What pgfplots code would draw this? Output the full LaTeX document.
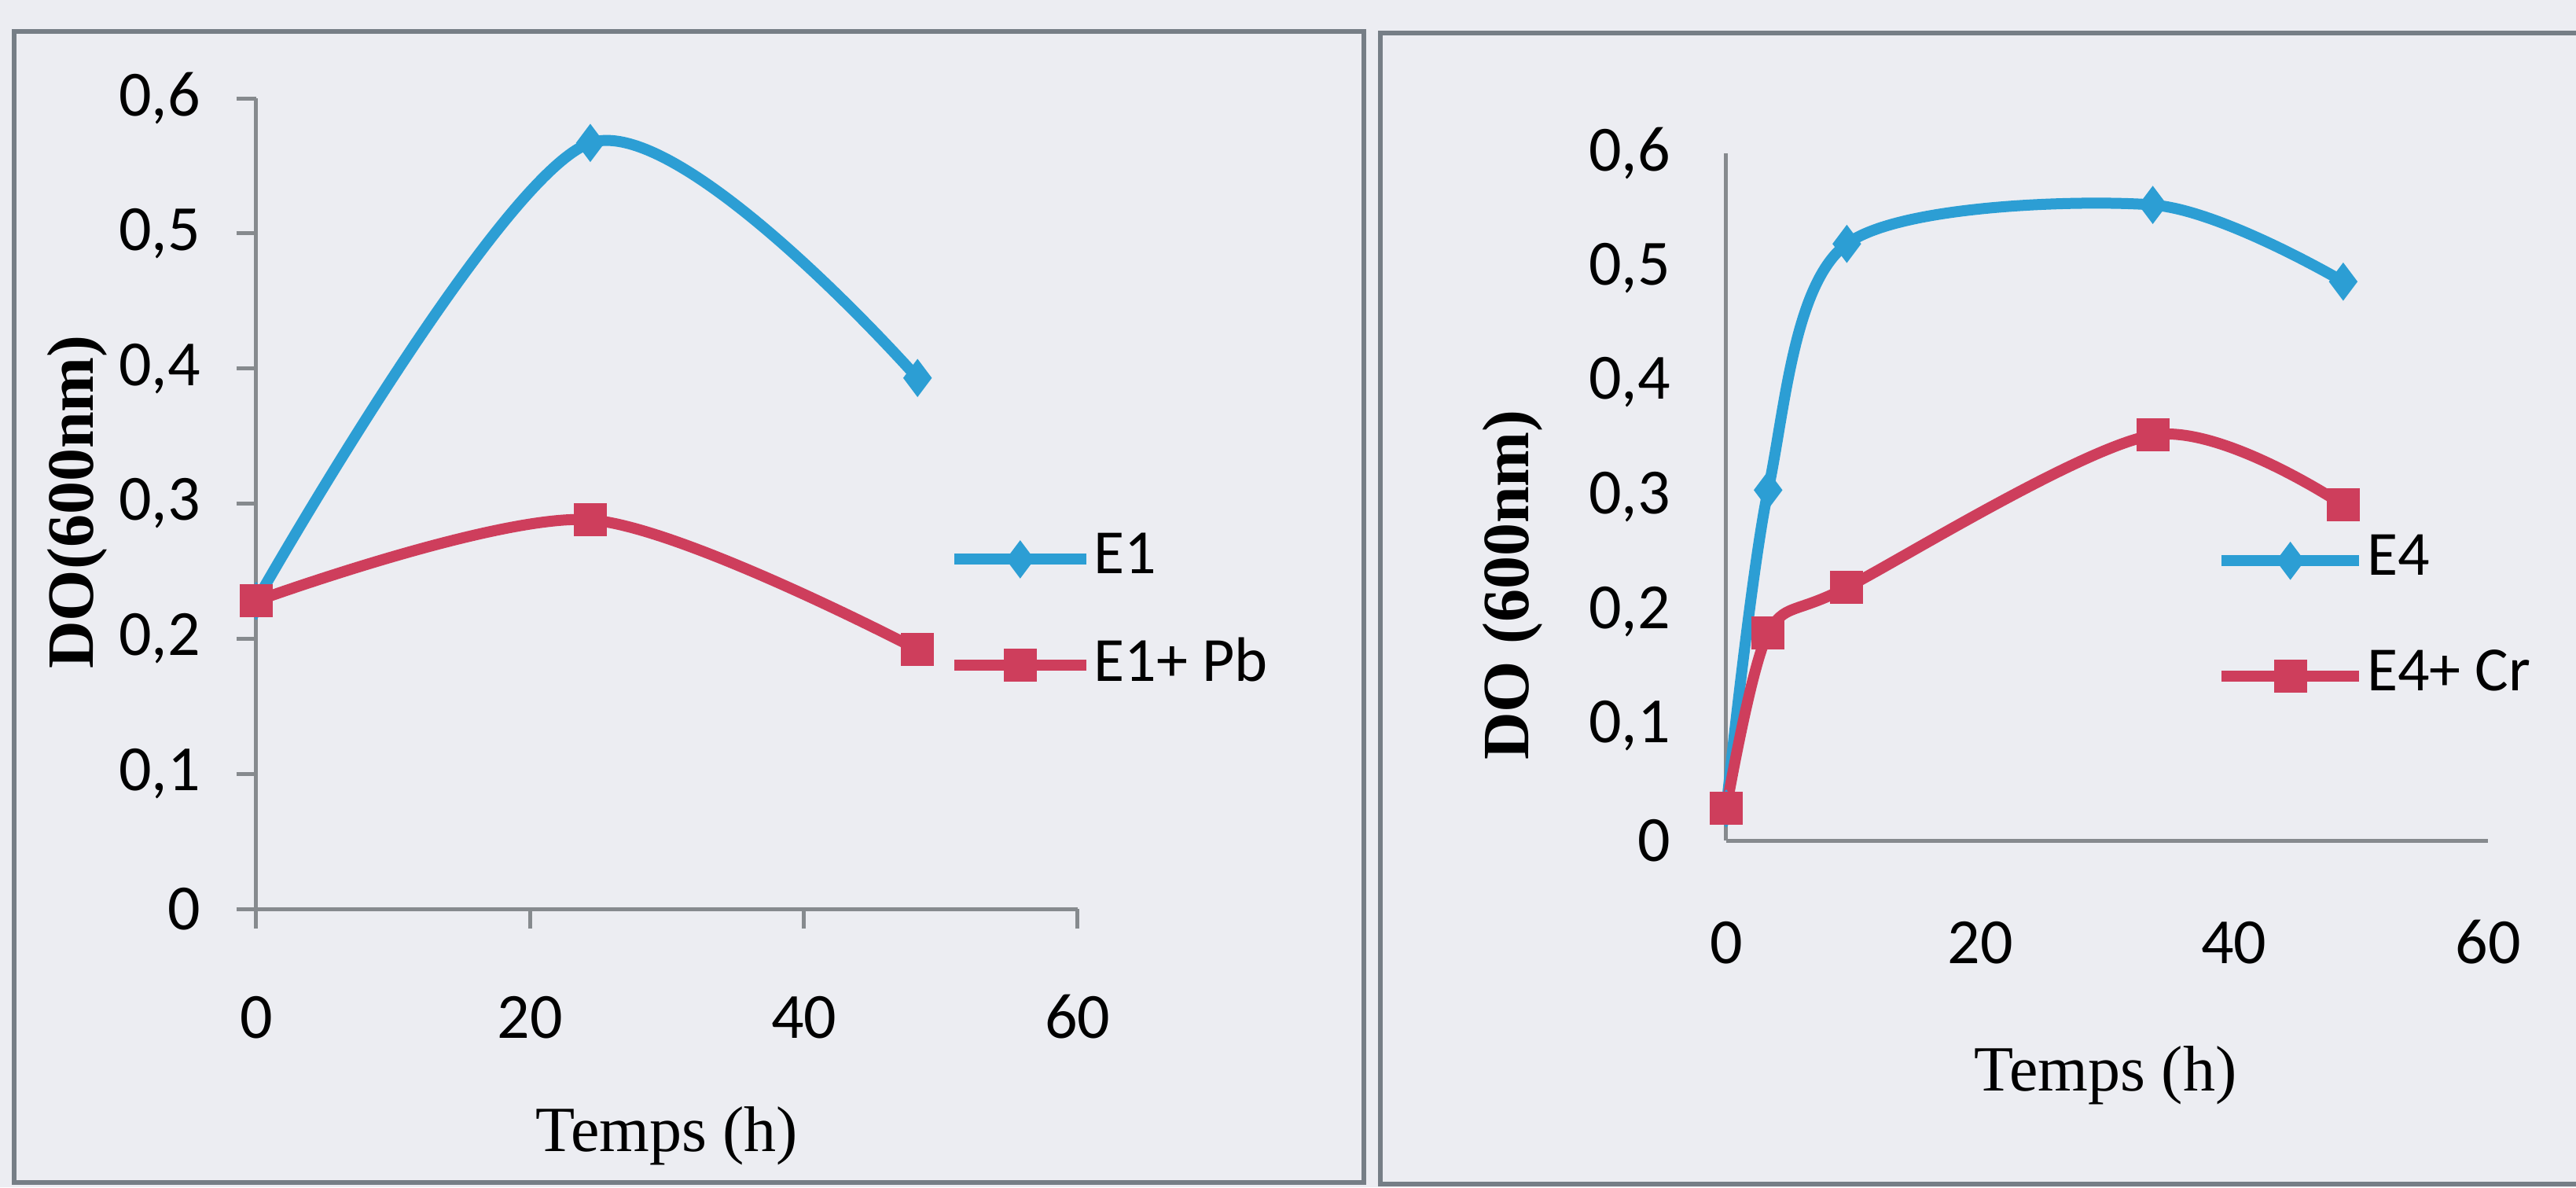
\documentclass[border=0pt]{standalone}
\usepackage{fontspec}
\setmainfont{Carlito}
\newfontfamily\timesf{Liberation Serif}
\usepackage{pgfplots}
\pgfplotsset{compat=1.18}
\definecolor{paper}{RGB}{236,237,242}
\definecolor{framec}{RGB}{118,126,134}
\definecolor{axisgray}{RGB}{134,138,142}
\definecolor{exblue}{RGB}{44,158,212}
\definecolor{exred}{RGB}{206,62,92}
\pgfplotsset{
  excel/.style={
    scale only axis, clip=false,
    xmin=0, xmax=60, ymin=0, ymax=0.6,
    axis x line*=bottom, axis y line*=left,
    axis line style={-, draw=axisgray, line width=0.5pt},
    xtick={0,20,40,60}, ytick={0,0.1,0.2,0.3,0.4,0.5,0.6},
    tick style={draw=axisgray, line width=0.5pt},
    tick align=outside,
    /pgf/number format/.cd, use comma, fixed, precision=1, assume math mode=true, /pgfplots/.cd,
    ticklabel style={font=\fontsize{8.2}{9.5}\selectfont, text=black, inner sep=0pt},
    label style={text=black},
    legend cell align=left,
  },
  sblue/.style={color=exblue, line width=1.4pt, smooth, tension=0.5, mark=diamond*, mark size=2.1pt, mark options={solid, fill=exblue, line width=0.4pt}},
  sred/.style={color=exred, line width=1.4pt, smooth, tension=0.5, mark=square*, mark size=1.9pt, mark options={solid, fill=exred, line width=0.4pt}},
}
\begin{document}
\begin{tikzpicture}
\useasboundingbox (0pt,0pt) rectangle (327.7pt,-151pt);
\fill[paper] (0pt,0pt) rectangle (327.7pt,-151pt);
% panel frames
\draw[framec, line width=0.6pt] (1.8pt,-4.0pt) rectangle (173.5pt,-150.4pt);
\draw[framec, line width=0.6pt] (327.7pt,-4.2pt) -- (175.6pt,-4.2pt) -- (175.6pt,-150.6pt) -- (327.7pt,-150.6pt);

% Left chart
\begin{axis}[excel,
  at={(32.6pt,-115.6pt)}, anchor=south west,
  width=104.5pt, height=103.1pt,
  major tick length=2.5pt,
  yticklabel style={anchor=east, xshift=-4.4pt},
  xticklabel style={anchor=base, yshift=-13.9pt},
  xlabel={Temps (h)}, ylabel={DO(600nm)},
  x label style={at={(axis description cs:0.5,-0.28)}, anchor=center, font=\timesf\fontsize{8.2}{10}\selectfont},
  y label style={at={(axis description cs:-0.218,0.502)}, anchor=center, font=\timesf\bfseries\fontsize{8.4}{10}\selectfont},
  legend image code/.code={\draw[mark repeat=2,mark phase=2] plot coordinates {(0pt,0pt) (8.4pt,0pt) (16.8pt,0pt)};},
  legend style={draw=none, fill=none, at={(axis description cs:0.841,0.365)}, anchor=west,
    inner sep=0pt, row sep=6pt, font=\fontsize{8}{9.6}\selectfont, nodes={inner sep=0.3pt}, cells={anchor=west}},
]
\addplot[sblue] coordinates {(0,0.228) (24.4,0.567) (48.3,0.393)};
\addlegendentry{E1}
\addplot[sred] coordinates {(0,0.228) (24.4,0.288) (48.3,0.192)};
\addlegendentry{E1+ Pb}
\end{axis}

% Right chart
\begin{axis}[excel,
  at={(219.6pt,-106.9pt)}, anchor=south west,
  width=96.9pt, height=87.4pt,
  major tick length=0pt,
  yticklabel style={anchor=east, xshift=-6.9pt},
  xticklabel style={anchor=base, yshift=-15.6pt},
  xlabel={Temps (h)}, ylabel={DO (600nm)},
  x label style={at={(axis description cs:0.498,-0.342)}, anchor=center, font=\timesf\fontsize{8.2}{10}\selectfont},
  y label style={at={(axis description cs:-0.28,0.372)}, anchor=center, font=\timesf\bfseries\fontsize{8.4}{10}\selectfont},
  legend image code/.code={\draw[mark repeat=2,mark phase=2] plot coordinates {(0pt,0pt) (8.75pt,0pt) (17.5pt,0pt)};},
  legend style={draw=none, fill=none, at={(axis description cs:0.641,0.323)}, anchor=west,
    inner sep=0pt, row sep=7.4pt, font=\fontsize{8}{9.6}\selectfont, nodes={inner sep=0.3pt}, cells={anchor=west}},
]
\addplot[sblue] coordinates {(0,0.028) (3.3,0.306) (9.5,0.521) (33.6,0.555) (48.6,0.488)};
\addlegendentry{E4}
\addplot[sred] coordinates {(0,0.028) (3.3,0.181) (9.5,0.221) (33.6,0.354) (48.6,0.293)};
\addlegendentry{E4+ Cr}
\end{axis}
\end{tikzpicture}
\end{document}
